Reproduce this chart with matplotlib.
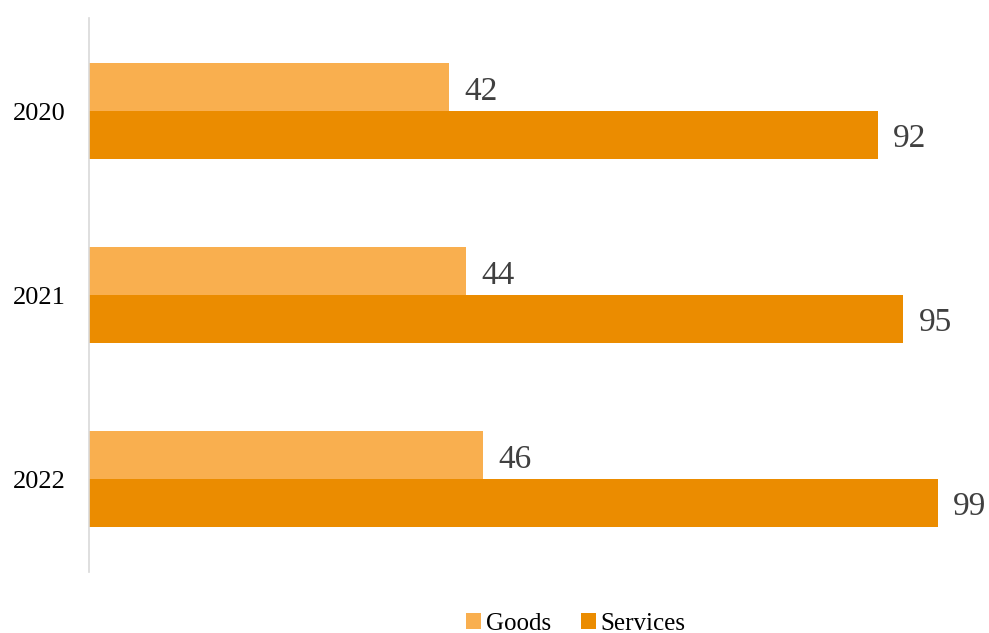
import numpy as np
import matplotlib
matplotlib.use('Agg')
import matplotlib.pyplot as plt

years = ['2020', '2021', '2022']
goods = [42, 44, 46]
services = [92, 95, 99]

plt.rcParams['font.family'] = ['Liberation Serif', 'DejaVu Serif']

fig = plt.figure(figsize=(9.89, 6.33), dpi=100)
ax = fig.add_axes([0.09, 0.0964, 0.91, 0.875])

y = np.arange(len(years))
h = 0.26
b1 = ax.barh(y - h / 2, goods, height=h, color='#F9AF4F', label='Goods')
b2 = ax.barh(y + h / 2, services, height=h, color='#EB8C00', label='Services')

for bars in (b1, b2):
    for bar in bars:
        w = bar.get_width()
        ax.annotate(f'{w:g}', (w, bar.get_y() + bar.get_height() / 2),
                    xytext=(11, -3), textcoords='offset points',
                    ha='left', va='center', fontsize=24, color='#404040')

ax.set_xlim(0, 105)
ax.set_ylim(2.505, -0.505)
ax.set_yticks(y)
ax.set_yticklabels(years, fontsize=19)
ax.set_xticks([])
ax.tick_params(axis='y', length=0, pad=17)
for s in ('top', 'right', 'bottom'):
    ax.spines[s].set_visible(False)
ax.spines['left'].set_color('#D9D9D9')
ax.spines['left'].set_linewidth(1.2)

fig.legend(handles=[b1, b2], loc='center', bbox_to_anchor=(0.582, 0.015),
           ncol=2, frameon=False, fontsize=18, handlelength=0.6,
           handleheight=0.6, handletextpad=0.2, columnspacing=1.2)

fig.savefig('out.png', dpi=100)
